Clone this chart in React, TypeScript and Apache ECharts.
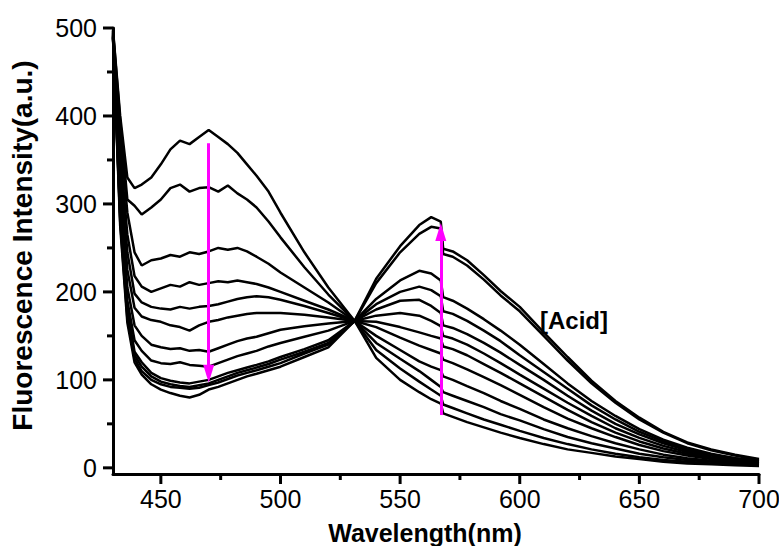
import React, { useEffect, useRef } from "react";
import * as echarts from "echarts";

// Wavelength knots (nm)
const WL = [430, 433, 436, 439, 442, 446, 450, 454, 458, 462, 466, 470, 474, 478, 482, 486, 490, 495, 500, 510, 520, 531, 540, 550, 558, 563, 567, 568, 572, 578, 585, 592, 600, 610, 620, 630, 640, 650, 660, 670, 680, 690, 700];

// Fluorescence intensity curves (a.u.), one per acid concentration
const CURVE_A = [498, 400, 330, 318, 322, 330, 345, 362, 372, 368, 376, 384, 376, 368, 358, 345, 332, 314, 290, 245, 205, 167, 125, 100, 86, 78, 73, 62, 58, 52, 46, 40, 34, 27, 21, 17, 13, 10, 7, 5, 4, 3, 2];
const CURVE_B = [497, 395, 305, 298, 288, 296, 305, 318, 322, 314, 318, 319, 314, 321, 312, 305, 296, 280, 262, 228, 197, 167, 134, 113, 98, 89, 82, 72, 68, 62, 55, 49, 42, 34, 27, 21, 16, 12, 9, 7, 5, 4, 3];
const CURVE_C = [496, 380, 290, 245, 230, 236, 238, 242, 240, 245, 243, 246, 250, 248, 250, 246, 240, 232, 222, 205, 188, 167, 142, 124, 110, 100, 92, 86, 82, 76, 69, 61, 54, 44, 35, 28, 22, 16, 12, 9, 7, 5, 3];
const CURVE_D = [495, 360, 265, 218, 206, 200, 204, 208, 206, 211, 208, 210, 212, 211, 213, 211, 209, 205, 200, 190, 180, 167, 150, 134, 121, 115, 111, 104, 100, 93, 85, 76, 67, 55, 45, 36, 28, 21, 15, 11, 8, 6, 4];
const CURVE_E = [494, 345, 245, 198, 188, 183, 181, 180, 183, 181, 183, 184, 186, 189, 192, 194, 195, 194, 191, 184, 176, 167, 160, 148, 139, 134, 130, 123, 119, 112, 103, 94, 83, 69, 56, 45, 35, 26, 19, 14, 10, 7, 5];
const CURVE_F = [493, 330, 225, 182, 172, 168, 166, 162, 160, 156, 162, 166, 168, 171, 173, 175, 176, 176, 176, 174, 171, 167, 166, 160, 154, 150, 147, 138, 135, 128, 118, 108, 96, 81, 66, 52, 40, 30, 22, 16, 11, 8, 5];
const CURVE_G = [492, 315, 205, 162, 150, 140, 137, 135, 136, 133, 134, 132, 136, 140, 144, 147, 149, 153, 157, 161, 164, 167, 173, 176, 173, 167, 161, 150, 147, 140, 130, 119, 106, 90, 74, 59, 45, 34, 25, 18, 12, 9, 6];
const CURVE_H = [491, 300, 190, 145, 133, 122, 119, 118, 120, 117, 116, 115, 119, 123, 127, 130, 133, 138, 142, 149, 156, 167, 180, 190, 191, 184, 176, 162, 159, 152, 142, 131, 117, 100, 82, 65, 50, 38, 28, 20, 14, 10, 7];
const CURVE_I = [490, 290, 180, 132, 120, 108, 102, 99, 97, 96, 98, 100, 104, 108, 111, 114, 117, 121, 126, 135, 145, 167, 186, 200, 206, 202, 195, 178, 175, 167, 156, 144, 128, 109, 90, 71, 55, 41, 30, 22, 15, 11, 7];
const CURVE_J = [490, 285, 175, 128, 115, 104, 98, 95, 93, 92, 94, 96, 100, 104, 108, 111, 114, 118, 123, 132, 142, 167, 192, 213, 224, 221, 213, 194, 190, 181, 169, 156, 140, 118, 96, 76, 59, 44, 32, 23, 16, 11, 8];
const CURVE_L = [489, 280, 170, 124, 110, 100, 95, 92, 91, 90, 91, 94, 97, 101, 105, 108, 111, 115, 119, 130, 140, 167, 210, 245, 266, 274, 272, 243, 240, 230, 214, 196, 178, 150, 122, 96, 74, 55, 40, 28, 20, 14, 9];
const CURVE_K = [488, 275, 165, 120, 106, 95, 89, 85, 82, 80, 83, 89, 92, 96, 100, 104, 107, 111, 115, 126, 137, 167, 215, 252, 276, 285, 280, 249, 246, 236, 219, 201, 183, 154, 126, 99, 76, 57, 41, 29, 21, 15, 10];

const CURVES = [CURVE_A, CURVE_B, CURVE_C, CURVE_D, CURVE_E, CURVE_F, CURVE_G, CURVE_H, CURVE_I, CURVE_J, CURVE_L, CURVE_K];

// Axis ticks
const X_MAJOR = [450, 500, 550, 600, 650, 700];
const X_MINOR = [475, 525, 575, 625, 675];
const Y_MAJOR = [0, 100, 200, 300, 400, 500];
const Y_MINOR = [50, 150, 250, 350, 450];

// Axis ranges
const X_MIN = 430;
const X_MAX = 700;
const Y_MIN = -7;
const Y_MAX = 500;

// Arrow annotations (data coordinates: start, end)
const ARROW_DOWN = [[470, 369], [470, 107]];
const ARROW_UP = [[567, 60], [567, 268]];

const FONT = "'Liberation Sans', Arial, sans-serif";
const MAJOR_LEN = 10;
const MINOR_LEN = 6;
const TICK_COLOR = "#000";

export default function App() {
  const ref = useRef<HTMLDivElement>(null);

  useEffect(() => {
    if (!ref.current) return;
    const chart = echarts.init(ref.current, null, { renderer: "svg" });

    const curveSeries = CURVES.map((c, i) => ({
      type: "line",
      name: "c" + i,
      xAxisIndex: 0,
      yAxisIndex: 0,
      data: WL.map((w, j) => [w, c[j]]),
      showSymbol: false,
      symbol: "none",
      lineStyle: { color: "#000", width: 2.5 },
      silent: true,
      z: 2,
    }));

    const arrowItem = (a: number[][]) => [
      { coord: a[0], symbol: "none" },
      { coord: a[1], symbol: "triangle", symbolSize: [11, 18] },
    ];

    const xTickData = [...X_MAJOR.map((v) => [v, 1]), ...X_MINOR.map((v) => [v, 0])];
    const yTickData = [...Y_MAJOR.map((v) => [X_MIN, v, 1]), ...Y_MINOR.map((v) => [X_MIN, v, 0])];

    const option: any = {
      animation: false,
      backgroundColor: "#fff",
      grid: {
        left: 113,
        right: 20,
        top: 28,
        bottom: 72,
        containLabel: false,
        outerBoundsMode: "none",
      },
      xAxis: {
        type: "value",
        min: X_MIN,
        max: X_MAX,
        position: "bottom",
        axisLine: { show: true, onZero: false, lineStyle: { color: "#000", width: 3 } },
        axisTick: { show: false },
        axisLabel: { customValues: X_MAJOR, margin: 12, fontSize: 25, color: "#000", fontFamily: FONT },
        splitLine: { show: false },
        name: "Wavelength(nm)",
        nameLocation: "middle",
        nameGap: 46,
        nameTextStyle: { fontSize: 25, fontWeight: "bold", color: "#000", fontFamily: FONT, padding: [0, 22, 0, 0] },
      },
      yAxis: {
        type: "value",
        min: Y_MIN,
        max: Y_MAX,
        position: "left",
        axisLine: { show: true, onZero: false, lineStyle: { color: "#000", width: 3 } },
        axisTick: { show: false },
        axisLabel: { customValues: Y_MAJOR, margin: 16, fontSize: 25, color: "#000", fontFamily: FONT },
        splitLine: { show: false },
        name: "Fluorescence Intensity(a.u.)",
        nameLocation: "middle",
        nameGap: 77,
        nameTextStyle: { fontSize: 28, fontWeight: "bold", color: "#000", fontFamily: FONT, padding: [0, 0, 0, 11] },
      },
      graphic: [
        {
          type: "text",
          left: 540,
          top: 308,
          style: { text: "[Acid]", fill: "#000", font: "bold 24px " + FONT },
          z: 10,
        },
      ],
      series: [
        ...curveSeries,
        {
          type: "custom",
          name: "xTicks",
          silent: true,
          clip: false,
          z: 6,
          encode: { x: 0 },
          data: xTickData,
          renderItem: (params: any, api: any) => {
            const v = api.value(0);
            const len = api.value(1) ? MAJOR_LEN : MINOR_LEN;
            const p = api.coord([v, Y_MIN]);
            return {
              type: "line",
              shape: { x1: p[0], y1: p[1], x2: p[0], y2: p[1] + len },
              style: { stroke: TICK_COLOR, lineWidth: 3 },
            };
          },
        },
        {
          type: "custom",
          name: "yTicks",
          silent: true,
          clip: false,
          z: 6,
          encode: { x: 0, y: 1 },
          data: yTickData,
          renderItem: (params: any, api: any) => {
            const v = api.value(1);
            const len = api.value(2) ? MAJOR_LEN : MINOR_LEN;
            const p = api.coord([X_MIN, v]);
            return {
              type: "line",
              shape: { x1: p[0], y1: p[1], x2: p[0] - len, y2: p[1] },
              style: { stroke: TICK_COLOR, lineWidth: 3 },
            };
          },
        },
        {
          type: "line",
          name: "arrows",
          data: [],
          silent: true,
          z: 5,
          markLine: {
            silent: true,
            animation: false,
            symbol: ["none", "triangle"],
            label: { show: false },
            lineStyle: { color: "#FF00FF", width: 3, type: "solid" },
            itemStyle: { color: "#FF00FF" },
            emphasis: { disabled: true },
            data: [arrowItem(ARROW_DOWN), arrowItem(ARROW_UP)],
          },
        },
      ],
    };

    chart.setOption(option);
    return () => chart.dispose();
  }, []);

  return (
    <div
      ref={ref}
      style={{ position: "fixed", left: 0, top: 0, width: 779, height: 546, background: "#fff" }}
    />
  );
}
